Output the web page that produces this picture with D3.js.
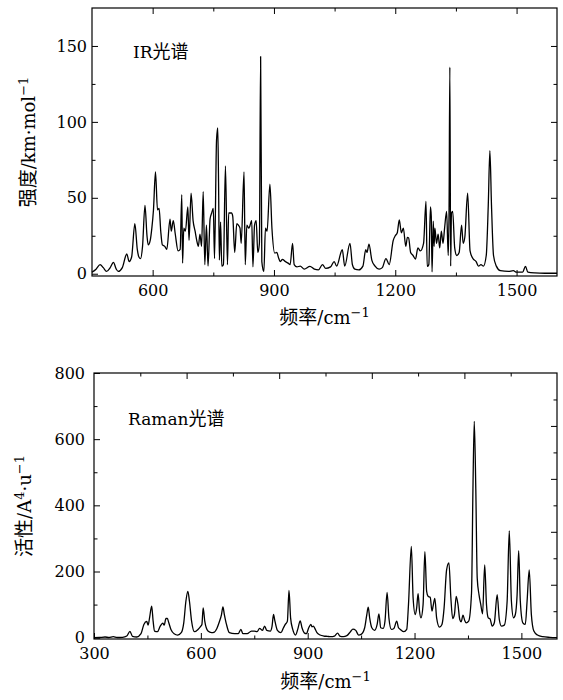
<!DOCTYPE html>
<html>
<head>
<meta charset="utf-8">
<script src="https://cdn.jsdelivr.net/npm/d3@7"></script>
<style>
  body { margin: 0; background: #fff; }
  text { fill: #000; }
</style>
</head>
<body>
<div id="canvas"></div>
<script>
"use strict"

/* IR spectrum: [wavenumber, intensity] */
let irPoints = [
    [450, 1], [460, 3], [470, 6], [478, 4], [486, 1.5], [495, 4], [503, 7.5], [510, 3],
    [515, 1.5], [525, 4], [536, 13], [542, 8], [548, 11], [556, 33], [562, 16], [566, 11],
    [570, 10], [575, 18], [581, 45], [586, 25], [589, 19], [594, 22], [598, 30], [602, 42],
    [607, 67], [612, 42], [616, 43], [620, 28], [624, 19], [630, 18], [635, 16], [643, 36],
    [646, 28], [651, 35], [656, 26], [663, 15], [668, 16], [672, 52], [674, 7], [677, 30],
    [681, 28], [687, 44], [690, 22], [695, 53], [700, 35], [705, 28], [709, 22], [713, 18],
    [717, 26], [721, 18], [725, 54], [729, 6], [733, 32], [737, 5], [742, 36], [746, 40],
    [750, 43], [753, 10], [758, 88], [761, 96], [763, 60], [765, 9], [768, 34], [771, 5],
    [775, 6], [780, 71], [785, 6], [788, 40], [795, 40], [798, 38], [803, 14], [808, 33],
    [812, 32], [816, 30], [819, 20], [826, 67], [829, 6], [833, 32], [838, 30], [845, 35],
    [848, 4.6], [852, 32], [856, 35], [860, 14], [864, 20], [867, 143], [870, 8], [875, 1.5],
    [879, 30], [883, 28], [890, 59], [895, 30], [902, 13.6], [907, 14], [912, 10], [916, 8],
    [921, 9.5], [928, 8], [935, 7], [940, 6], [946, 20], [950, 6], [957, 4.5], [965, 5],
    [975, 3], [989, 4.8], [1000, 3], [1010, 2.5], [1020, 6], [1028, 3.5], [1040, 4.5], [1049, 8],
    [1055, 5], [1069, 15.8], [1075, 5], [1088, 20], [1094, 6], [1100, 3], [1110, 2.5], [1120, 5],
    [1127, 15.8], [1130, 14], [1135, 19.5], [1142, 9], [1150, 5], [1160, 3], [1168, 4], [1177, 10],
    [1185, 6], [1195, 22], [1200, 25], [1205, 27], [1210, 35.5], [1215, 27], [1220, 30], [1226, 18],
    [1230, 24], [1233, 23.6], [1238, 14], [1244, 12], [1250, 9.6], [1256, 17], [1262, 15], [1270, 20],
    [1276, 47.6], [1279, 4.8], [1283, 6], [1287, 44], [1289, 38], [1291, 1.2], [1294, 34.6], [1296, 18],
    [1298, 30], [1302, 20], [1306, 26], [1310, 17], [1314, 28], [1318, 20], [1322, 30], [1327, 41],
    [1331, 12], [1333, 40], [1335, 136], [1337, 5], [1339, 40], [1342, 41], [1347, 17], [1352, 12],
    [1358, 14], [1364, 32], [1368, 20], [1372, 24], [1379, 53], [1385, 15], [1392, 10], [1400, 8],
    [1406, 5], [1412, 6], [1418, 5], [1425, 12], [1430, 45], [1434, 81], [1438, 45], [1443, 12],
    [1450, 5], [1460, 2], [1480, 1.5], [1492, 2], [1500, 1], [1515, 1], [1522, 4.8], [1528, 1],
    [1545, 0.5], [1570, 0.3], [1600, 0.3]
];

/* Raman spectrum: [wavenumber, activity] */
let ramanPoints = [
    [300, 0], [315, 0.5], [331, 2], [342, 0.5], [354, 3], [365, 0.5], [380, 1], [392, 5],
    [401, 19], [408, 4], [420, 2], [432, 12], [440, 40], [448, 49], [452, 38], [456, 60],
    [462, 95], [466, 50], [470, 20], [478, 18], [486, 35], [493, 44], [497, 38], [502, 58],
    [506, 58], [510, 45], [516, 25], [525, 12], [535, 8], [545, 15], [552, 45], [558, 110],
    [563.5, 140], [568, 110], [574, 50], [582, 18], [592, 25], [600, 35], [603, 40], [606.5, 90],
    [611, 50], [620, 20], [630, 15], [638, 17], [645, 28], [652, 48], [658, 70], [662, 93],
    [666, 70], [672, 40], [680, 15], [695, 12], [705, 12], [712.5, 25], [718, 12], [730, 12],
    [742, 20], [750, 20], [758, 18], [765, 28], [773, 22], [779, 35], [785, 22], [795, 20],
    [800, 35], [804, 70], [808, 50], [815, 22], [825, 15], [832, 30], [837, 40], [843, 50],
    [847.5, 143], [852, 60], [858, 25], [866, 8], [872, 25], [879, 51], [884, 30], [890, 15],
    [896, 12], [903, 30], [909, 40], [912, 33], [916, 35], [920, 28], [926, 15], [935, 8],
    [945, 5], [955, 4], [965, 3], [975, 5], [984, 14], [990, 5], [1000, 3], [1010, 6],
    [1020, 18], [1027, 26], [1035, 22], [1043, 8], [1050, 10], [1060, 30], [1066, 70], [1070, 92],
    [1074, 60], [1080, 30], [1088, 22], [1095, 40], [1100, 72], [1105, 30], [1112, 28], [1117, 50],
    [1123, 137], [1128, 60], [1135, 25], [1142, 28], [1150, 50], [1155, 30], [1160, 25], [1170, 18],
    [1178, 25], [1183, 100], [1191, 276], [1196, 120], [1202, 70], [1206, 90], [1210, 133], [1214, 80],
    [1218, 60], [1224, 100], [1229, 260], [1234, 140], [1238, 125], [1244, 122], [1249, 80], [1252, 95],
    [1257, 119], [1262, 60], [1270, 32], [1277, 40], [1283, 90], [1290, 205], [1296.5, 226], [1302, 120],
    [1307, 58], [1312, 70], [1317, 125], [1322, 100], [1327, 55], [1331, 48], [1336, 68], [1341, 52],
    [1345, 45], [1352, 50], [1360, 135], [1364, 450], [1367.7, 654], [1372, 450], [1376, 180], [1381, 130],
    [1386, 100], [1391, 72], [1397, 220], [1402, 100], [1407, 60], [1412, 57], [1418, 35], [1424, 45],
    [1432, 130], [1438, 55], [1444, 35], [1452, 38], [1460, 110], [1466, 323], [1472, 110], [1478, 60],
    [1483, 70], [1488, 130], [1492.4, 263], [1497, 110], [1504, 45], [1511, 40], [1516, 110], [1522, 205],
    [1528, 70], [1535, 20], [1545, 8], [1560, 3], [1580, 1], [1600, 0]
];

/* tick labels */
let irXTicks = [600, 900, 1200, 1500];
let irYTicks = [0, 50, 100, 150];
let ramanXTicks = [300, 600, 900, 1200, 1500];
let ramanYTicks = [0, 200, 400, 600, 800];

/* Drawing config */
let svgWidth = 563;
let svgHeight = 700;
let serifFont = "DejaVu Serif, serif";
let cjkFont = "Noto Sans CJK SC";

let svg = d3.select("#canvas")
    .append("svg")
    .attr("width", svgWidth)
    .attr("height", svgHeight);

// helper: inward ticks from a d3 axis generator
function addTicks(g, axis, values, size, pad, showLabels, tx, ty) {
    let a = axis.tickValues(values)
        .tickSizeInner(-size)
        .tickSizeOuter(0)
        .tickPadding(pad)
        .tickFormat(showLabels ? d3.format("d") : "");
    let sel = g.append("g")
        .attr("transform", "translate(" + tx + "," + ty + ")")
        .call(a)
        .attr("font-family", serifFont)
        .attr("font-size", 16);
    sel.select(".domain").remove();
    sel.selectAll("line").attr("stroke", "black").attr("stroke-width", 1);
    sel.selectAll("text").attr("fill", "black");
    return sel;
}

function drawPanel(p) {
    let g = svg.append("g");
    let x = p.x, y = p.y;
    let [x0, x1] = x.range();
    let [y1, y0] = y.range();

    // spectrum line
    let line = d3.line()
        .x(d => x(d[0]))
        .y(d => y(d[1]))
        .curve(d3.curveMonotoneX);

    g.append("path")
        .datum(p.points)
        .attr("fill", "none")
        .attr("stroke", "black")
        .attr("stroke-width", 1.3)
        .attr("stroke-linejoin", "round")
        .attr("d", line);

    // bottom axis: labelled majors + minors
    addTicks(g, d3.axisBottom(x), p.xMajor, 6, 9, true, 0, y1);
    addTicks(g, d3.axisBottom(x), p.xMinor, 3.5, 9, false, 0, y1);
    // top axis
    addTicks(g, d3.axisTop(x), p.topMajor, 6, 0, false, 0, y0);
    addTicks(g, d3.axisTop(x), p.topMinor, 3.5, 0, false, 0, y0);
    // left axis
    addTicks(g, d3.axisLeft(y), p.yMajor, 6, p.yPad, true, x0, 0);
    addTicks(g, d3.axisLeft(y), p.yMinor, 3.5, p.yPad, false, x0, 0);
    // right axis
    addTicks(g, d3.axisRight(y), p.rightMajor, 6, 0, false, x1, 0);
    addTicks(g, d3.axisRight(y), p.rightMinor, 3.5, 0, false, x1, 0);

    // frame
    g.append("rect")
        .attr("x", x0)
        .attr("y", y0)
        .attr("width", x1 - x0)
        .attr("height", y1 - y0)
        .attr("fill", "none")
        .attr("stroke", "black")
        .attr("stroke-width", 1.2);

    // panel title
    let t = g.append("text")
        .attr("x", p.titleX)
        .attr("y", p.titleY)
        .attr("font-family", serifFont)
        .attr("font-size", 17);
    t.append("tspan").text(p.titleLatin);
    t.append("tspan").attr("font-family", cjkFont).attr("font-size", 18).text("光谱");

    // x axis title
    let xt = g.append("text")
        .attr("x", (x0 + x1) / 2)
        .attr("y", p.xTitleY)
        .attr("text-anchor", "middle")
        .attr("font-family", serifFont)
        .attr("font-size", 18);
    xt.append("tspan").attr("font-family", cjkFont).attr("font-size", 19).text("频率");
    xt.append("tspan").text("/cm");
    xt.append("tspan").attr("dy", -7).attr("font-size", 13).text("−1");

    // y axis title (rotated)
    let yt = g.append("text")
        .attr("transform", "translate(" + p.yTitleX + "," + ((y0 + y1) / 2) + ") rotate(-90)")
        .attr("text-anchor", "middle")
        .attr("font-family", serifFont)
        .attr("font-size", 18);
    yt.append("tspan").attr("font-family", cjkFont).attr("font-size", 19).text(p.yTitleCjk);
    p.yTitleParts.forEach(function(part) {
        let s = yt.append("tspan").text(part.t);
        if (part.sup) s.attr("dy", -7).attr("font-size", 13);
        if (part.down) s.attr("dy", 7);
    });
}

/* IR panel */
drawPanel({
    points: irPoints,
    x: d3.scaleLinear().domain([450, 1600]).range([92, 557]),
    y: d3.scaleLinear().domain([-1.5, 175]).range([276, 8]),
    xMajor: irXTicks,
    xMinor: [750, 1050, 1350],
    topMajor: irXTicks,
    topMinor: [750, 1050, 1350],
    yMajor: irYTicks,
    yMinor: [25, 75, 125],
    rightMajor: [50, 100, 150],
    rightMinor: [25, 75, 125],
    yPad: 5,
    titleLatin: "IR",
    titleX: 133,
    titleY: 58,
    xTitleY: 324,
    yTitleX: 35,
    yTitleCjk: "强度",
    yTitleParts: [{ t: "/km·mol" }, { t: "−1", sup: true }]
});

/* Raman panel */
drawPanel({
    points: ramanPoints,
    x: d3.scaleLinear().domain([300, 1600]).range([94, 557]),
    y: d3.scaleLinear().domain([-4, 800]).range([639, 373]),
    xMajor: ramanXTicks,
    xMinor: [450, 750, 1050, 1350],
    topMajor: [560, 820, 1080, 1340],
    topMinor: [430, 690, 950, 1210, 1470],
    yMajor: ramanYTicks,
    yMinor: [100, 300, 500, 700],
    rightMajor: [160, 320, 480, 640],
    rightMinor: [80, 240, 400, 560, 720],
    yPad: 9,
    titleLatin: "Raman",
    titleX: 128,
    titleY: 425,
    xTitleY: 688,
    yTitleX: 31,
    yTitleCjk: "活性",
    yTitleParts: [{ t: "/A" }, { t: "4", sup: true }, { t: "·u", down: true }, { t: "−1", sup: true }]
});
</script>
</body>
</html>
